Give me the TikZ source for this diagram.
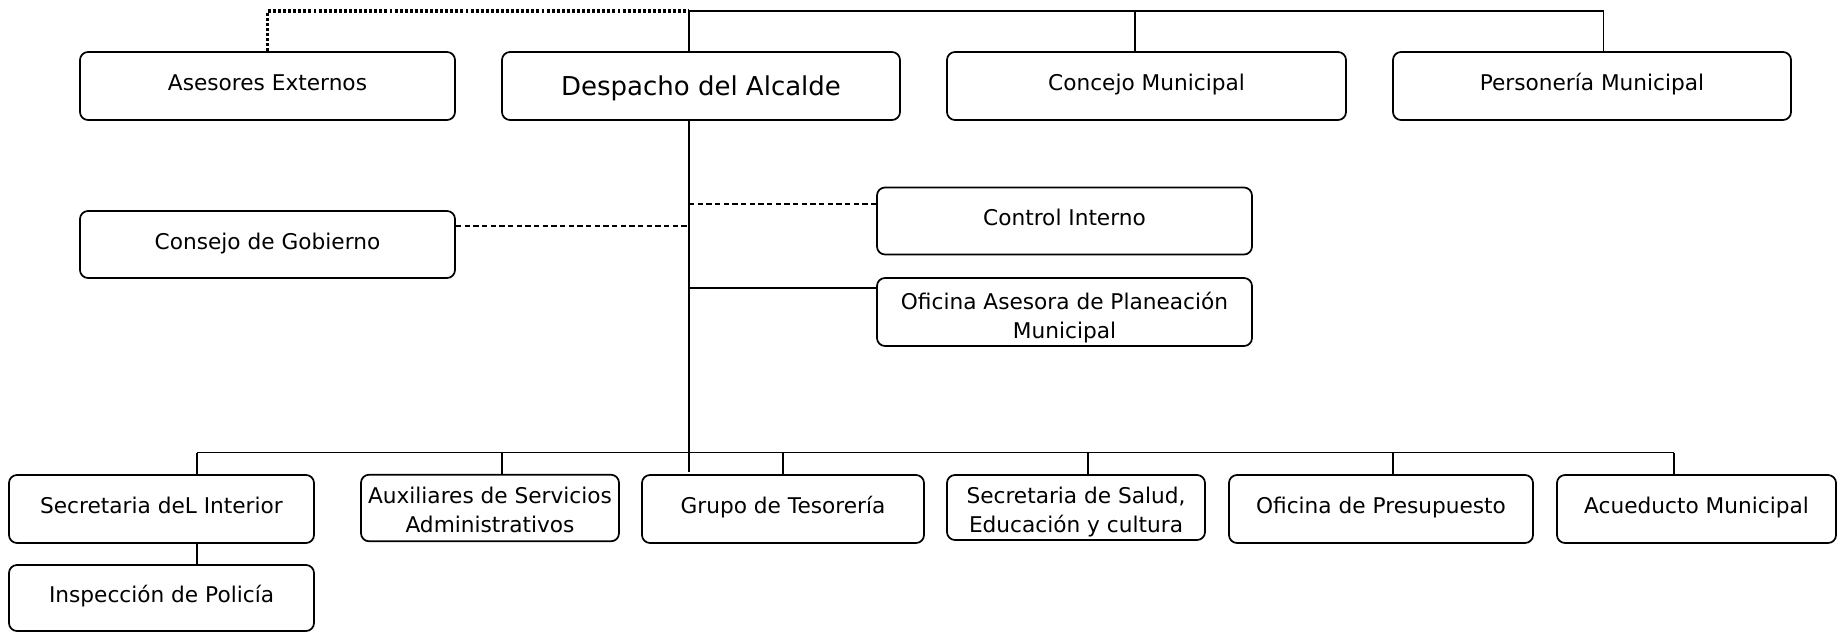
\documentclass[tikz,border=0pt]{standalone}
\usepackage{fontspec}
\setmainfont{DejaVu Sans}
\begin{document}
\begin{tikzpicture}[x=0.75pt,y=-0.75pt,
  box/.style={draw=black,line width=1.3pt,rounded corners=6pt,inner sep=0pt,align=center,font=\fontsize{16.25}{21.5}\selectfont,text height=12pt,text depth=5.2pt},
  big/.style={font=\fontsize{19.5}{23}\selectfont,text height=14.2pt,text depth=0pt},
  two/.style={text height=#1,text depth=0pt},
  conn/.style={draw=black,line width=1.1pt},
  dsh/.style={draw=black,line width=1.1pt,dash pattern=on 4pt off 2.5pt},
  dot/.style={draw=black,line width=2.4pt,dash pattern=on 2.2pt off 1.6pt}]
\useasboundingbox (0,0) rectangle (1838,633);
% top row
\node[box,minimum width=281.25pt,minimum height=51pt] (ase) at (267.5,86) {Asesores Externos};
\node[box,big,minimum width=298.5pt,minimum height=51pt] (des) at (701,86) {Despacho del Alcalde};
\node[box,minimum width=299.25pt,minimum height=51pt] (con) at (1146.5,86) {Concejo Municipal};
\node[box,minimum width=298.5pt,minimum height=51pt] (per) at (1592,86) {Personería Municipal};
% middle
\node[box,minimum width=281.25pt,minimum height=50.25pt] (gob) at (267.5,244.5) {Consejo de Gobierno};
\node[box,minimum width=281.25pt,minimum height=50.25pt] (ctl) at (1064.5,221) {Control Interno};
\node[box,two=39pt,minimum width=281.25pt,minimum height=51pt] (ofi) at (1064.5,312) {Oficina Asesora de Planeación\\Municipal};
% bottom row
\node[box,minimum width=228.75pt,minimum height=51pt] (sec) at (161.5,509) {Secretaria deL Interior};
\node[box,two=36.5pt,minimum width=193.5pt,minimum height=49.9pt] (aux) at (490,508) {Auxiliares de Servicios\\Administrativos};
\node[box,minimum width=211.5pt,minimum height=51pt] (tes) at (783,509) {Grupo de Tesorería};
\node[box,two=37pt,minimum width=193.5pt,minimum height=48.75pt] (sal) at (1076,507.5) {Secretaria de Salud,\\Educación y cultura};
\node[box,minimum width=228pt,minimum height=51pt] (pre) at (1381,509) {Oficina de Presupuesto};
\node[box,minimum width=209.25pt,minimum height=51pt] (acu) at (1696.5,509) {Acueducto Municipal};
\node[box,minimum width=228.75pt,minimum height=49.5pt] (ins) at (161.5,598) {Inspección de Policía};
% top connectors
\coordinate (tL) at (689,11);
\coordinate (tC) at (1135,11);
\coordinate (tR) at (1603.5,11);
\draw[dot] (ase.north) |- (tL);
\draw[conn] (tL) -- (tR);
\draw[conn] (tL) -- (tL |- des.north);
\draw[conn] (tC) -- (tC |- con.north);
\draw[conn] (tR) -- (tR |- per.north);
% trunk
\coordinate (bT) at (689,472);
\draw[conn] (tL |- des.south) -- (bT);
\coordinate (mG) at (689,226);
\coordinate (mC) at (689,204);
\coordinate (mO) at (689,288);
\draw[dsh] (gob.east |- mG) -- (mG);
\draw[dsh] (mC) -- (ctl.west |- mC);
\draw[conn] (mO) -- (ofi.west |- mO);
% bottom connectors
\coordinate (j1) at (197,452.5);
\coordinate (j2) at (502,452.5);
\coordinate (j3) at (783,452.5);
\coordinate (j4) at (1088,452.5);
\coordinate (j5) at (1393,452.5);
\coordinate (j6) at (1674,452.5);
\draw[conn] (j1) -- (j6);
\draw[conn] (j1) -- (j1 |- sec.north);
\draw[conn] (j2) -- (j2 |- aux.north);
\draw[conn] (j3) -- (j3 |- tes.north);
\draw[conn] (j4) -- (j4 |- sal.north);
\draw[conn] (j5) -- (j5 |- pre.north);
\draw[conn] (j6) -- (j6 |- acu.north);
\draw[conn] (j1 |- sec.south) -- (j1 |- ins.north);
\end{tikzpicture}
\end{document}
